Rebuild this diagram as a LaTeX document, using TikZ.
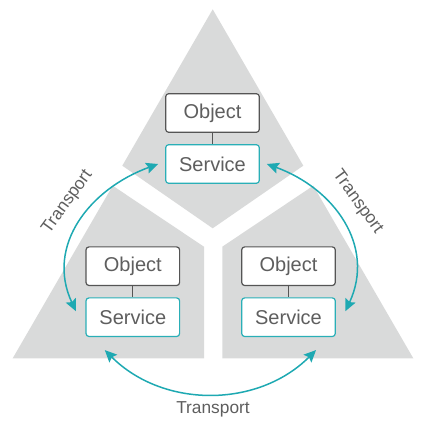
\documentclass[tikz,border=0pt]{standalone}
\usepackage{fontspec}
\setmainfont{Liberation Sans}
\usetikzlibrary{arrows.meta}
\definecolor{bggray}{HTML}{D9DADA}
\definecolor{txtgray}{HTML}{5E5E5E}
\definecolor{objborder}{HTML}{555555}
\definecolor{teal}{HTML}{2AAFB7}
\definecolor{arrowteal}{HTML}{1EA9B2}
\tikzset{
  objbox/.style={draw=objborder, fill=white, line width=1.2pt, rounded corners=3pt,
    minimum width=93.6pt, minimum height=38.6pt, inner sep=0pt,
    text=txtgray, font=\fontsize{20}{24}\selectfont},
  svcbox/.style={objbox, draw=teal},
  link/.style={draw=objborder, line width=1pt},
  tarrow/.style={draw=arrowteal, line width=1.5pt,
    {Stealth[length=12pt,width=11pt,inset=2pt]}-{Stealth[length=12pt,width=11pt,inset=2pt]}},
  lbl/.style={text=txtgray, font=\fontsize{17.3}{20}\selectfont, inner sep=0pt},
  piece/.style={fill=bggray, draw=none}
}
\begin{document}
\begin{tikzpicture}[x=1pt,y=1pt]
\useasboundingbox (0,0) rectangle (425,434);
% background pieces
\path[piece] (212.7,424.7) -- (303.3,268.3) -- (212.7,205.7) -- (122.3,268.3) -- cycle;
\path[piece] (112.7,248.3) -- (204,187.3) -- (204,75.7) -- (12.7,75.7) -- cycle;
\path[piece] (313.3,248.3) -- (222.3,187.3) -- (222.3,75.7) -- (413.3,75.7) -- cycle;
% boxes
\node[objbox] (to) at (212.5,321) {Object};
\node[svcbox] (ts) at (212.5,270) {Service};
\node[objbox] (lo) at (132.8,167.8) {Object};
\node[svcbox] (ls) at (132.8,116.8) {Service};
\node[objbox] (ro) at (288.5,167.8) {Object};
\node[svcbox] (rs) at (288.5,116.8) {Service};
\draw[link] (to.south) -- (ts.north);
\draw[link] (lo.south) -- (ls.north);
\draw[link] (ro.south) -- (rs.north);
% transport arrows
\draw[tarrow] ([xshift=-7pt]ts.west) to[out=200,in=115,looseness=1.1] ([xshift=-9.5pt,yshift=6pt]ls.west);
\draw[tarrow] ([xshift=7pt]ts.east) to[out=-20,in=65,looseness=1.1] ([xshift=9.5pt,yshift=6pt]rs.east);
\draw[tarrow] ([xshift=-28pt,yshift=-13pt]ls.south) to[out=-45,in=-135] ([xshift=27.5pt,yshift=-13pt]rs.south);
% labels
\node[lbl, rotate=54] (tl) at (67.5,232) {Transport};
\node[lbl, rotate=-54] (tr) at (357.5,232) {Transport};
\node[lbl] (tb) at (213,24.7) {Transport};
\end{tikzpicture}
\end{document}
